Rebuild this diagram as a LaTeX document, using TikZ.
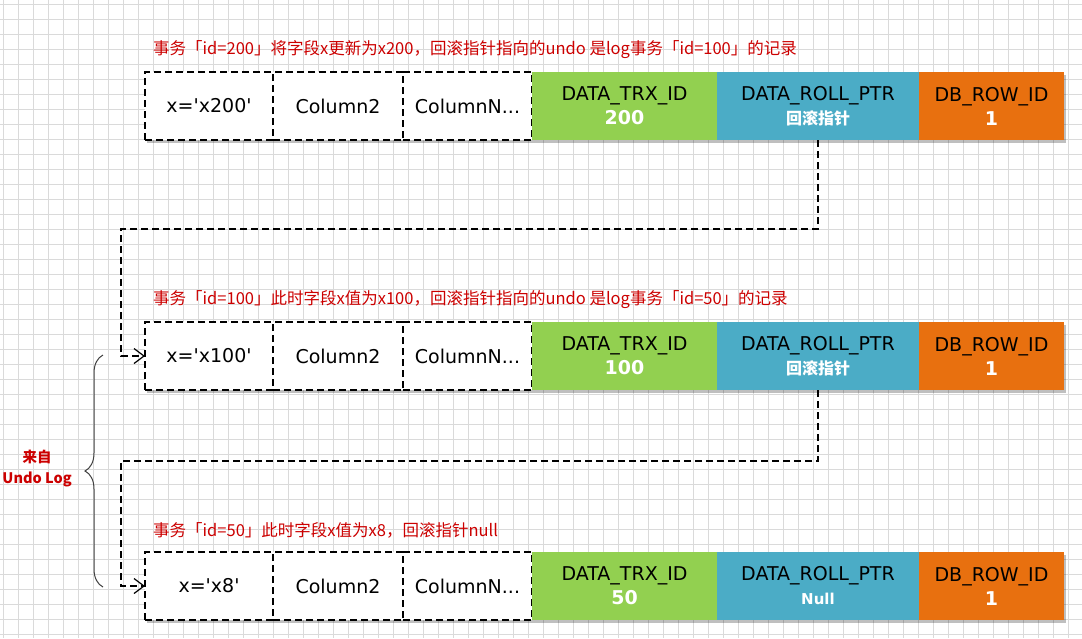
\documentclass[tikz,border=0pt]{standalone}
\usepackage{fontspec}
\newfontfamily\cellfont{DejaVu Sans}
\newfontfamily\cjk{Noto Sans CJK SC}
\usetikzlibrary{positioning,arrows.meta,shadows,decorations.pathreplacing}
\definecolor{trxgreen}{HTML}{92D050}
\definecolor{rollblue}{HTML}{4BACC6}
\definecolor{rowidorange}{HTML}{E8700F}
\definecolor{notered}{HTML}{CC0000}
\definecolor{gridgray}{HTML}{DADADA}
\tikzset{
        cell/.style={rectangle, inner sep=0pt, outer sep=0pt, minimum height=68pt, align=center,
                font=\cellfont\fontsize{19}{24}\selectfont,
                drop shadow={shadow xshift=2pt, shadow yshift=-3pt, fill=black, opacity=0.25}},
        % white column cells
        cell_plain/.style={cell, draw=black, fill=white, line width=1.2pt, dash pattern=on 7pt off 4pt},
        % hidden columns
        cell_trx/.style={cell, fill=trxgreen, minimum width=185pt},
        cell_roll/.style={cell, fill=rollblue, minimum width=202pt},
        cell_rowid/.style={cell, fill=rowidorange, minimum width=145pt},
        % red notes above the rows
        note_red/.style={anchor=west, inner sep=0pt, text=notered, font=\cjk\fontsize{16.5}{18}\selectfont},
        note_source/.style={align=center, inner sep=0pt, text=notered, font=\cjk\bfseries\fontsize{14.5}{21}\selectfont},
        % undo chain
        link_dashed/.style={line width=1.2pt, dash pattern=on 7pt off 4pt, -{Straight Barb[length=10pt,width=15pt]}}
}
\begin{document}
\begin{tikzpicture}[x=1pt, y=-1pt]
    \useasboundingbox (0,0) rectangle (1082,638);
    \fill[white] (0,0) rectangle (1082,638);
    \foreach \gx in {3,18,...,1082} \draw[gridgray, line width=0.6pt] (\gx,0) -- (\gx,638);
    \foreach \gy in {4,19,...,638} \draw[gridgray, line width=0.6pt] (0,\gy) -- (1082,\gy);

    % row of trx 200
    \node[note_red] (note_200) at (153,50) {事务「id=200」将字段x更新为x200，回滚指针指向的undo 是log事务「id=100」的记录};
    \node[cell_plain, minimum width=128pt, anchor=north west] (r1_x) at (145,72) {x='x200'};
    \node[cell_plain, minimum width=130pt, right=0pt of r1_x] (r1_col2) {Column2};
    \node[cell_plain, minimum width=129pt, right=0pt of r1_col2] (r1_coln) {ColumnN...};
    \node[cell_trx, right=0pt of r1_coln] (r1_trx) {DATA\_TRX\_ID\\{\bfseries\color{white}200}};
    \node[cell_roll, right=0pt of r1_trx] (r1_roll) {DATA\_ROLL\_PTR\\{\cjk\bfseries\fontsize{16}{24}\selectfont\color{white}回滚指针}};
    \node[cell_rowid, right=0pt of r1_roll] (r1_rowid) {DB\_ROW\_ID\\{\bfseries\color{white}1}};

    % row of trx 100
    \node[note_red] (note_100) at (153,300) {事务「id=100」此时字段x值为x100，回滚指针指向的undo 是log事务「id=50」的记录};
    \node[cell_plain, minimum width=128pt, anchor=north west] (r2_x) at (145,322) {x='x100'};
    \node[cell_plain, minimum width=130pt, right=0pt of r2_x] (r2_col2) {Column2};
    \node[cell_plain, minimum width=129pt, right=0pt of r2_col2] (r2_coln) {ColumnN...};
    \node[cell_trx, right=0pt of r2_coln] (r2_trx) {DATA\_TRX\_ID\\{\bfseries\color{white}100}};
    \node[cell_roll, right=0pt of r2_trx] (r2_roll) {DATA\_ROLL\_PTR\\{\cjk\bfseries\fontsize{16}{24}\selectfont\color{white}回滚指针}};
    \node[cell_rowid, right=0pt of r2_roll] (r2_rowid) {DB\_ROW\_ID\\{\bfseries\color{white}1}};

    % row of trx 50
    \node[note_red] (note_50) at (153,530) {事务「id=50」此时字段x值为x8，回滚指针null};
    \node[cell_plain, minimum width=128pt, anchor=north west] (r3_x) at (145,552) {x='x8'};
    \node[cell_plain, minimum width=130pt, right=0pt of r3_x] (r3_col2) {Column2};
    \node[cell_plain, minimum width=129pt, right=0pt of r3_col2] (r3_coln) {ColumnN...};
    \node[cell_trx, right=0pt of r3_coln] (r3_trx) {DATA\_TRX\_ID\\{\bfseries\color{white}50}};
    \node[cell_roll, right=0pt of r3_trx] (r3_roll) {DATA\_ROLL\_PTR\\{\bfseries\fontsize{15}{24}\selectfont\color{white}Null}};
    \node[cell_rowid, right=0pt of r3_roll] (r3_rowid) {DB\_ROW\_ID\\{\bfseries\color{white}1}};

    % roll pointers
    \coordinate (turn_1) at (121,229);
    \coordinate (turn_2) at (121,461);
    \draw[link_dashed] (r1_roll.south) |- (turn_1) |- (r2_x.west);
    \draw[link_dashed] (r2_roll.south) |- (turn_2) |- (r3_x.west);

    % undo log brace
    \coordinate (brace_top) at (103,355);
    \coordinate (brace_bottom) at (103,587);
    \draw[black!75, line width=1pt, decorate, decoration={brace, amplitude=18pt}] (brace_bottom) -- (brace_top);
    \coordinate (brace_tip) at (84,469);
    \node[note_source, left=12pt of brace_tip] (source_label) {来自\\Undo Log};
\end{tikzpicture}
\end{document}
